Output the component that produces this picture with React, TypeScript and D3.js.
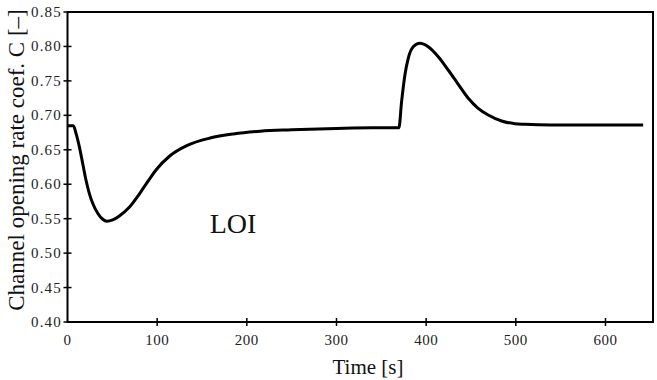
import React from "react";
import * as d3 from "d3";

const timeValues = [0, 6.5, 9.5, 13.2, 16.9, 20.6, 24.3, 28.1, 33.7, 39.3, 43.7, 50.4, 57.8, 68.9, 80.1, 91.2, 98.7, 114, 133, 159, 185, 215, 250, 300, 340, 369.6, 372.6, 376.3, 380, 385.6, 393, 402.3, 413.5, 424.6, 435.8, 447, 458, 469.2, 484.2, 499, 510, 540, 642];
const coefValues = [0.685, 0.685, 0.6739, 0.6545, 0.6304, 0.6061, 0.5868, 0.5723, 0.5578, 0.5491, 0.5462, 0.5481, 0.5539, 0.5665, 0.5858, 0.6071, 0.6207, 0.641, 0.656, 0.667, 0.673, 0.677, 0.679, 0.681, 0.682, 0.682, 0.7198, 0.7586, 0.7828, 0.7996, 0.8045, 0.7996, 0.7851, 0.7658, 0.745, 0.7247, 0.7102, 0.7005, 0.6918, 0.6879, 0.687, 0.686, 0.686];
const xTicks = [0, 100, 200, 300, 400, 500, 600];
const yTicks = [0.4, 0.45, 0.5, 0.55, 0.6, 0.65, 0.7, 0.75, 0.8, 0.85];

const W = 657, H = 380;
const left = 67.5, right = 653, top = 12, bottom = 322;

export default function App() {
  const x = d3.scaleLinear().domain([0, 653]).range([left, right]);
  const y = d3.scaleLinear().domain([0.4, 0.85]).range([bottom, top]);
  const pts: [number, number][] = timeValues.map((t, i) => [t, coefValues[i]]);
  const line = d3.line<[number, number]>().x(d => x(d[0])).y(d => y(d[1])).curve(d3.curveMonotoneX);
  const font = "'Liberation Serif', 'DejaVu Serif', serif";
  return (
    <svg width={W} height={H} style={{ position: "absolute", left: 0, top: 0, background: "#fff" }}>
      <rect x={left} y={top} width={right - left} height={bottom - top} fill="none" stroke="#000" strokeWidth={2} />
      {xTicks.map(t => (
        <g key={"x" + t}>
          {t > 0 && <line x1={x(t)} x2={x(t)} y1={bottom - 4} y2={bottom + 4} stroke="#000" strokeWidth={1.5} />}
          <text x={x(t)} y={345} textAnchor="middle" fontFamily={font} fontSize={15} letterSpacing={0.5} fill="#222">{t}</text>
        </g>
      ))}
      {yTicks.map(v => (
        <g key={"y" + v}>
          <line x1={left - 4} x2={left + 4} y1={y(v)} y2={y(v)} stroke="#000" strokeWidth={1.5} />
          <text x={62} y={y(v) + 5} textAnchor="end" fontFamily={font} fontSize={15} letterSpacing={1.2} fill="#222">{v.toFixed(2)}</text>
        </g>
      ))}
      <path d={line(pts) || ""} fill="none" stroke="#000" strokeWidth={3} strokeLinejoin="round" />
      <text x={233} y={233} textAnchor="middle" fontFamily={font} fontSize={28} fill="#111">LOI</text>
      <text x={368} y={374} textAnchor="middle" fontFamily={font} fontSize={21} fill="#111">Time [s]</text>
      <text transform={`translate(24,160) rotate(-90)`} textAnchor="middle" fontFamily={font} fontSize={23} fill="#111">Channel opening rate coef. C [–]</text>
    </svg>
  );
}
